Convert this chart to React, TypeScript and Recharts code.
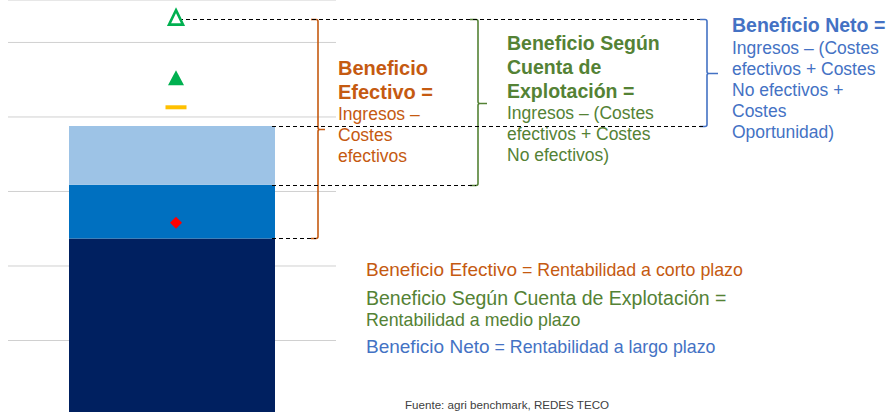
import { ComposedChart, Bar, Line, XAxis, YAxis, CartesianGrid, ReferenceLine, ReferenceArea } from 'recharts';

// one bar: costs stacked, markers for returns
const categories = ['Explotación'];
const costesEfectivos = [237];
const costesNoEfectivos = [72];
const costesOportunidad = [79];
const ingresosTotales = [532];
const ingresosMercado = [452];
const marcadorAmarillo = [413];
const marcadorRojo = [258];
const gridTicks = [100, 200, 300, 400, 500];

const ORANGE = '#C55A11';
const GREEN = '#548235';
const BLUE = '#4472C4';
const FONT = '"Liberation Sans", Arial, sans-serif';

const rows = categories.map((name, i) => ({
  name,
  efectivos: costesEfectivos[i],
  noEfectivos: costesNoEfectivos[i],
  oportunidad: costesOportunidad[i],
  total: ingresosTotales[i],
  mercado: ingresosMercado[i],
  amarillo: marcadorAmarillo[i],
  rojo: marcadorRojo[i],
}));

const nivelTotal = ingresosTotales[0];
const nivelEfectivo = costesEfectivos[0];
const nivelExplotacion = costesEfectivos[0] + costesNoEfectivos[0];
const nivelNeto = nivelExplotacion + costesOportunidad[0];

const NUDGE = 4;
const crisp = (v: number) => Math.round(v) + 0.5;

const hollowTri = (p: any) => {
  const x = p.cx + NUDGE, y = p.cy;
  return <polygon key="ht" points={`${x},${y - 8.5} ${x + 7},${y + 6} ${x - 7},${y + 6}`} fill="#fff" stroke="#00B050" strokeWidth={2.6} />;
};
const filledTri = (p: any) => {
  const x = p.cx + NUDGE, y = p.cy;
  return <polygon key="ft" points={`${x},${y - 8} ${x + 8},${y + 7} ${x - 8},${y + 7}`} fill="#00B050" />;
};
const dash = (p: any) => {
  const x = p.cx + NUDGE, y = p.cy;
  return <rect key="ds" x={x - 10.5} y={y - 2} width={21} height={4} fill="#FFC000" />;
};
const diamond = (p: any) => {
  const x = p.cx + NUDGE, y = p.cy;
  return <polygon key="dm" points={`${x},${y - 6} ${x + 6},${y} ${x},${y + 6} ${x - 6},${y}`} fill="#FF0000" />;
};

// curly bracket drawn at column bx, between the area's top and bottom
const brace = (bx: number, hook: number, tip: number, color: string) => (props: any) => {
  const top = crisp(props.y);
  const bot = crisp(props.y + props.height);
  const mid = crisp((top + bot) / 2);
  const d =
    `M${bx - hook},${top} L${bx - 2},${top} Q${bx},${top} ${bx},${top + 2} ` +
    `L${bx},${mid - 2} Q${bx},${mid} ${bx + 2},${mid} L${bx + tip},${mid} ` +
    `M${bx + 2},${mid} Q${bx},${mid} ${bx},${mid + 2} ` +
    `L${bx},${bot - 2} Q${bx},${bot} ${bx - 2},${bot} L${bx - hook},${bot}`;
  return <path d={d} fill="none" stroke={color} strokeWidth={1.6} />;
};

const dashed = (y: number, from: number, to: number, key: string) => (
  <ReferenceLine
    key={key}
    y={y}
    ifOverflow="visible"
    shape={(p: any) => (
      <line x1={from} x2={to} y1={crisp(p.y1)} y2={crisp(p.y1)} stroke="#000" strokeDasharray="4 3" strokeWidth={1} />
    )}
  />
);

function TextBlock({ left, top, color, bold, regular, boldSize, regSize, boldLh, regLh }: any) {
  return (
    <div style={{ position: 'absolute', left, top, color, fontFamily: FONT, whiteSpace: 'nowrap' }}>
      {bold.map((t: string) => (
        <div key={t} style={{ fontWeight: 700, fontSize: boldSize, lineHeight: `${boldLh}px` }}>{t}</div>
      ))}
      {regular.map((t: string) => (
        <div key={t} style={{ fontSize: regSize, lineHeight: `${regLh}px` }}>{t}</div>
      ))}
    </div>
  );
}

export default function App() {
  return (
    <div style={{ position: 'relative', width: 889, height: 412, overflow: 'hidden', background: '#fff' }}>
      <style>{'body{margin:0}'}</style>
      <ComposedChart width={889} height={415} data={rows} margin={{ top: 0, right: 0, bottom: 0, left: 0 }}>
        <CartesianGrid vertical={false} x={8} width={328} stroke="#d0d0d0" />
        <XAxis dataKey="name" hide padding={{ left: 0, right: 545 }} />
        <YAxis hide domain={[0, 557]} ticks={gridTicks} allowDataOverflow />
        <Bar dataKey="efectivos" stackId="c" fill="#002060" barSize={206} isAnimationActive={false} />
        <Bar dataKey="noEfectivos" stackId="c" fill="#0070C0" barSize={206} isAnimationActive={false} />
        <Bar dataKey="oportunidad" stackId="c" fill="#9DC3E6" barSize={206} isAnimationActive={false} />
        {dashed(nivelTotal, 179, 700, 'd1')}
        {dashed(nivelNeto, 272, 705, 'd2')}
        {dashed(nivelExplotacion, 272, 476, 'd3')}
        {dashed(nivelEfectivo, 272, 316, 'd4')}
        <ReferenceArea y1={nivelEfectivo} y2={nivelTotal} ifOverflow="visible" shape={brace(318, 7, 7, ORANGE)} />
        <ReferenceArea y1={nivelExplotacion} y2={nivelTotal} ifOverflow="visible" shape={brace(478, 8, 9, GREEN)} />
        <ReferenceArea y1={nivelNeto} y2={nivelTotal} ifOverflow="visible" shape={brace(707, 7, 11, BLUE)} />
        <Line dataKey="total" stroke="none" dot={hollowTri} activeDot={false} legendType="none" isAnimationActive={false} />
        <Line dataKey="mercado" stroke="none" dot={filledTri} activeDot={false} legendType="none" isAnimationActive={false} />
        <Line dataKey="amarillo" stroke="none" dot={dash} activeDot={false} legendType="none" isAnimationActive={false} />
        <Line dataKey="rojo" stroke="none" dot={diamond} activeDot={false} legendType="none" isAnimationActive={false} />
      </ComposedChart>

      <TextBlock left={338} top={56} color={ORANGE} boldSize={20} regSize={17.5} boldLh={24} regLh={21}
        bold={['Beneficio', 'Efectivo =']} regular={['Ingresos –', 'Costes', 'efectivos']} />
      <TextBlock left={507} top={31} color={GREEN} boldSize={19.5} regSize={17.5} boldLh={24} regLh={21}
        bold={['Beneficio Según', 'Cuenta de', 'Explotación =']} regular={['Ingresos – (Costes', 'efectivos + Costes', 'No efectivos)']} />
      <TextBlock left={732} top={12} color={BLUE} boldSize={19.5} regSize={17.5} boldLh={26} regLh={21}
        bold={['Beneficio Neto =']} regular={['Ingresos – (Costes', 'efectivos + Costes', 'No efectivos +', 'Costes', 'Oportunidad)']} />

      <div style={{ position: 'absolute', left: 366, top: 258, fontFamily: FONT, color: ORANGE, whiteSpace: 'nowrap', lineHeight: '24px' }}>
        <span style={{ fontSize: 19 }}>Beneficio Efectivo</span>
        <span style={{ fontSize: 17.8 }}> = Rentabilidad a corto plazo</span>
      </div>
      <div style={{ position: 'absolute', left: 366, top: 286, fontFamily: FONT, color: GREEN, whiteSpace: 'nowrap', lineHeight: '24px', fontSize: 19.5 }}>
        Beneficio Según Cuenta de Explotación =
      </div>
      <div style={{ position: 'absolute', left: 366, top: 308, fontFamily: FONT, color: GREEN, whiteSpace: 'nowrap', lineHeight: '24px', fontSize: 17.8 }}>
        Rentabilidad a medio plazo
      </div>
      <div style={{ position: 'absolute', left: 366, top: 335, fontFamily: FONT, color: BLUE, whiteSpace: 'nowrap', lineHeight: '24px' }}>
        <span style={{ fontSize: 19 }}>Beneficio Neto</span>
        <span style={{ fontSize: 17.8 }}> = Rentabilidad a largo plazo</span>
      </div>
      <div style={{ position: 'absolute', left: 405, top: 397, fontFamily: FONT, color: '#404040', whiteSpace: 'nowrap', lineHeight: '16px', fontSize: 11.6 }}>
        Fuente: agri benchmark, REDES TECO
      </div>
    </div>
  );
}
